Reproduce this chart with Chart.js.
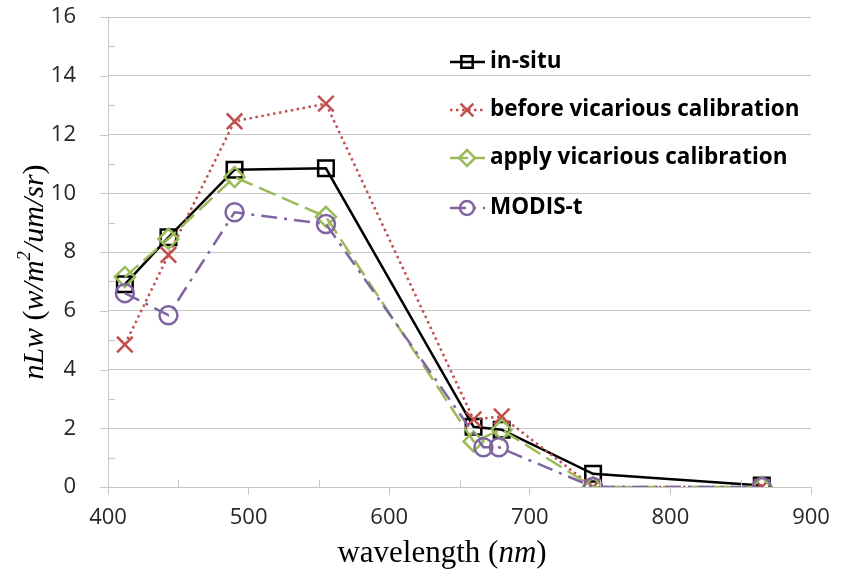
<!DOCTYPE html>
<html>
<head>
<meta charset="utf-8">
<script src="https://cdn.jsdelivr.net/npm/chart.js@4.4.1/dist/chart.umd.min.js"></script>
<style>
    html, body { margin: 0; padding: 0; background: #fff; }
    #box { width: 845px; height: 583px; }
</style>
</head>
<body>
<div id="box"><canvas id="grafico" width="845" height="583"></canvas></div>
<script>
// bandas (nm) de cada serie
var bandasGoci = [412, 443, 490, 555, 660, 680, 745, 865]
var bandasModis = [412, 443, 490, 555, 667, 678, 745, 865]

// valores nLw
var inSitu = [6.9, 8.5, 10.8, 10.85, 2.05, 1.95, 0.45, 0.05]
var antesCalib = [4.85, 7.9, 12.45, 13.05, 2.3, 2.4, 0.0, 0.0]
var aplicaCalib = [7.15, 8.45, 10.55, 9.2, 1.55, 1.95, 0.0, 0.0]
var modisT = [6.6, 5.85, 9.35, 8.95, 1.35, 1.35, 0.0, 0.0]

var nomesSeries = ['in-situ', 'before vicarious calibration', 'apply vicarious calibration', 'MODIS-t']

// ticks dos eixos
var ticksX = [400, 500, 600, 700, 800, 900]
var ticksY = [0, 2, 4, 6, 8, 10, 12, 14, 16]

var corGrade = '#c6c6c6'
var corTexto = '#262626'

// junta bandas e valores em pontos {x,y}
function pontos(bandas, valores){
    return valores.map(function(v, i){ return { x: bandas[i], y: v } })
}

// escreve texto com trechos de estilos diferentes (italico, sobrescrito)
function textoRico(ctx, partes, cx, cy, tam){
    var total = 0
    partes.forEach(function(p){
        var t = p.sup ? tam * 0.62 : tam
        ctx.font = (p.it ? 'italic ' : '') + t + 'px "Liberation Serif", "DejaVu Serif", serif'
        p.w = ctx.measureText(p.t).width
        total += p.w
    })
    var x = cx - total / 2
    ctx.textBaseline = 'middle'
    ctx.textAlign = 'left'
    ctx.fillStyle = '#000'
    partes.forEach(function(p){
        var t = p.sup ? tam * 0.62 : tam
        ctx.font = (p.it ? 'italic ' : '') + t + 'px "Liberation Serif", "DejaVu Serif", serif'
        ctx.fillText(p.t, x, p.sup ? cy - tam * 0.33 : cy)
        x += p.w
    })
}

// plugin: titulos dos eixos, ticks menores e legenda dentro do grafico
var extras = {
    id: 'extras',
    afterDraw: function(chart){
        var ctx = chart.ctx
        var sx = chart.scales.x
        var sy = chart.scales.y
        var area = chart.chartArea

        ctx.save()
        // ticks do eixo y (maiores para fora, menores para dentro)
        ctx.strokeStyle = corGrade
        ctx.lineWidth = 1
        for (var v = ticksY[0]; v <= ticksY[ticksY.length - 1]; v += 1){
            var py = Math.round(sy.getPixelForValue(v)) + 0.5
            ctx.beginPath()
            if (v % 2 == 0){ ctx.moveTo(area.left - 8, py); ctx.lineTo(area.left, py) }
            else { ctx.moveTo(area.left, py); ctx.lineTo(area.left + 7, py) }
            ctx.stroke()
        }
        // ticks menores do eixo x
        for (var w = ticksX[0] + 50; w < ticksX[ticksX.length - 1]; w += 100){
            var px = Math.round(sx.getPixelForValue(w)) + 0.5
            ctx.beginPath(); ctx.moveTo(px, area.bottom); ctx.lineTo(px, area.bottom - 7); ctx.stroke()
        }

        // titulo eixo x
        textoRico(ctx, [
            { t: 'wavelength (' },
            { t: 'nm', it: true },
            { t: ')' }
        ], 442, 554, 31)

        // titulo eixo y
        ctx.save()
        ctx.translate(35, 272)
        ctx.rotate(-Math.PI / 2)
        textoRico(ctx, [
            { t: 'nLw', it: true },
            { t: ' (' },
            { t: 'w/m', it: true },
            { t: '2', it: true, sup: true },
            { t: '/um/sr', it: true },
            { t: ')' }
        ], 0, 0, 30)
        ctx.restore()

        // legenda
        var linhasY = [62, 110, 158, 208]
        var raiosLeg = [8, 9, 8, 7]
        chart.data.datasets.forEach(function(ds, i){
            var y = linhasY[i]
            ctx.strokeStyle = ds.borderColor
            ctx.lineWidth = 2.5
            ctx.setLineDash(ds.borderDash || [])
            ctx.beginPath(); ctx.moveTo(450, y); ctx.lineTo(485, y); ctx.stroke()
            ctx.setLineDash([])
            ctx.fillStyle = 'rgba(0,0,0,0)'
            Chart.helpers.drawPoint(ctx, {
                pointStyle: ds.pointStyle,
                radius: raiosLeg[i],
                rotation: 0,
                borderWidth: 2.2
            }, 467, y)
            ctx.fillStyle = '#000'
            ctx.font = 'bold 22.5px "Open Sans", sans-serif'
            ctx.textAlign = 'left'
            ctx.textBaseline = 'middle'
            ctx.fillText(ds.label, 490, y)
        })
        ctx.restore()
    }
}

function grafico(){
    try{
        var configs = {
            canvas: document.getElementById('grafico').getContext('2d'),
            datasets: [
                {
                    label: nomesSeries[0], data: pontos(bandasGoci, inSitu),
                    borderColor: '#000000', pointStyle: 'rect', pointRadius: 11,
                    borderDash: [], order: 4
                },
                {
                    label: nomesSeries[1], data: pontos(bandasGoci, antesCalib),
                    borderColor: '#c0504d', pointStyle: 'crossRot', pointRadius: 11,
                    borderDash: [2.5, 3.5], order: 3
                },
                {
                    label: nomesSeries[2], data: pontos(bandasGoci, aplicaCalib),
                    borderColor: '#9bbb59', pointStyle: 'rectRot', pointRadius: 10,
                    borderDash: [18, 7], order: 2
                },
                {
                    label: nomesSeries[3], data: pontos(bandasModis, modisT),
                    borderColor: '#8064a2', pointStyle: 'circle', pointRadius: 9,
                    borderDash: [16, 7, 3, 7], order: 1
                }
            ]
        }

        configs.datasets.forEach(function(ds){
            ds.showLine = true
            ds.borderWidth = 2.5
            ds.backgroundColor = 'rgba(0,0,0,0)'
            ds.pointBorderColor = ds.borderColor
            ds.pointBorderWidth = 2.5
            ds.pointHoverRadius = ds.pointRadius
            ds.tension = 0
        })

        new Chart(configs.canvas, {
            type: 'scatter',
            data: { datasets: configs.datasets },
            plugins: [extras],
            options: {
                responsive: false,
                animation: false,
                layout: { padding: { top: 17, right: 34, left: 0, bottom: 0 } },
                plugins: { legend: { display: false }, tooltip: { enabled: false } },
                scales: {
                    x: {
                        type: 'linear',
                        min: ticksX[0], max: ticksX[ticksX.length - 1],
                        ticks: {
                            stepSize: ticksX[1] - ticksX[0],
                            color: corTexto, padding: 10,
                            font: { family: '"Open Sans", sans-serif', size: 22 }
                        },
                        grid: { drawOnChartArea: false, tickLength: 8, color: corGrade },
                        border: { color: corGrade },
                        afterFit: function(s){ s.height = 96 }
                    },
                    y: {
                        min: ticksY[0], max: ticksY[ticksY.length - 1],
                        ticks: {
                            stepSize: ticksY[1] - ticksY[0],
                            color: corTexto, padding: 2,
                            font: { family: '"Open Sans", sans-serif', size: 22 }
                        },
                        grid: { color: corGrade, tickLength: 30, tickColor: 'rgba(0,0,0,0)' },
                        border: { color: corGrade },
                        afterFit: function(s){ s.width = 108 }
                    }
                }
            }
        })
    }catch(e){ console.log(e) }
}

grafico()
</script>
</body>
</html>
